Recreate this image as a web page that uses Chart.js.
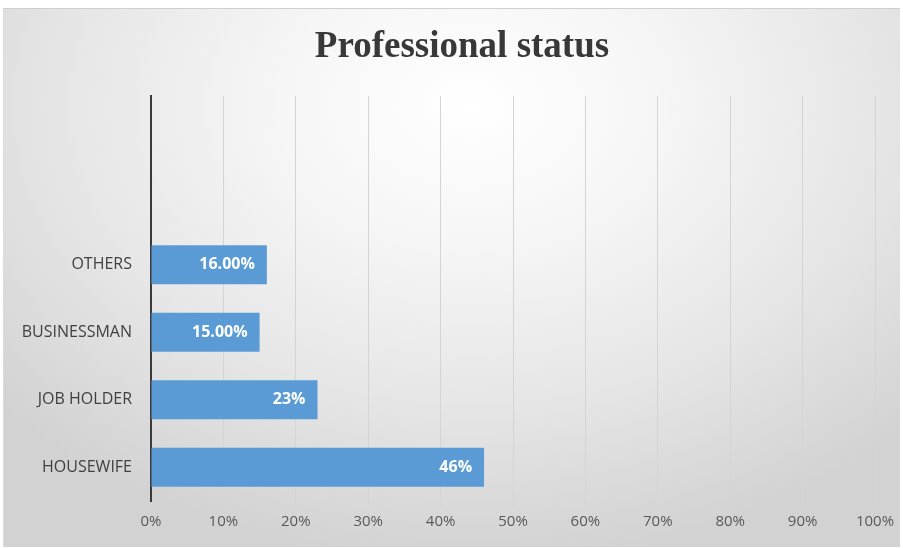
<!DOCTYPE html>
<html>
<head>
<meta charset="utf-8">
<script src="https://cdn.jsdelivr.net/npm/chart.js@4/dist/chart.umd.min.js"></script>
<style>
  html, body { margin: 0; padding: 0; background: #ffffff; }
  #wrap { position: relative; width: 903px; height: 548px; overflow: hidden; }
  #frame {
    position: absolute; left: 3px; top: 8px; width: 896px; height: 538px;
    border-top: 1px solid #cfcfcf; border-left: 1px solid #dadada;
    background: radial-gradient(ellipse 70% 85% at 52% 18%, #ffffff 0%, #f6f6f6 30%, #e6e6e6 65%, #d2d2d2 100%);
  }
  canvas { position: absolute; left: 0; top: 0; }
</style>
</head>
<body>
<div id="wrap">
  <div id="frame"></div>
  <canvas id="c" width="903" height="548"></canvas>
</div>
<script>
// Categories listed top to bottom; the two upper slots stay empty.
const categories = ['', '', 'OTHERS', 'BUSINESSMAN', 'JOB HOLDER', 'HOUSEWIFE'];
const shares = [null, null, 16, 15, 23, 46];
const shareLabels = ['', '', '16.00%', '15.00%', '23%', '46%'];
const xTicks = [0, 10, 20, 30, 40, 50, 60, 70, 80, 90, 100];

const labelFont = '"Liberation Sans Narrow", "Open Sans", sans-serif';

// Writes each bar's value label inside the bar's end.
const valueLabels = {
  id: 'valueLabels',
  afterDatasetsDraw(chart) {
    const ctx = chart.ctx;
    const meta = chart.getDatasetMeta(0);
    ctx.save();
    ctx.fillStyle = '#ffffff';
    ctx.font = 'bold 16px ' + labelFont;
    ctx.textAlign = 'right';
    ctx.textBaseline = 'middle';
    meta.data.forEach((bar, i) => {
      if (shares[i] == null) return;
      ctx.fillText(shareLabels[i], bar.x - 12, bar.y);
    });
    ctx.restore();
  }
};

// Chart heading.
const heading = {
  id: 'heading',
  afterDraw(chart) {
    const ctx = chart.ctx;
    ctx.save();
    ctx.fillStyle = '#383838';
    ctx.font = 'bold 37px "Liberation Serif", "DejaVu Serif", serif';
    ctx.textAlign = 'center';
    ctx.textBaseline = 'middle';
    ctx.fillText('Professional status', 462, 47);
    ctx.restore();
  }
};

new Chart(document.getElementById('c'), {
  type: 'bar',
  data: {
    labels: categories,
    datasets: [{
      data: shares,
      backgroundColor: '#5b9bd5',
      borderWidth: 0,
      categoryPercentage: 1,
      barPercentage: 0.58
    }]
  },
  options: {
    indexAxis: 'y',
    responsive: false,
    animation: false,
    layout: { padding: { left: 4, right: 28, top: 96, bottom: 17 } },
    plugins: { legend: { display: false }, title: { display: false }, tooltip: { enabled: false } },
    scales: {
      x: {
        min: 0, max: 100,
        afterBuildTicks(scale) { scale.ticks = xTicks.map(v => ({ value: v })); },
        afterFit(scale) { scale.height = 30; },
        border: { display: false },
        grid: { color: '#d4d4d4', lineWidth: 1, tickLength: 5, drawTicks: true },
        ticks: {
          color: '#595959',
          padding: 7,
          font: { family: labelFont, size: 15 },
          callback: v => v + '%'
        }
      },
      y: {
        afterFit(scale) { scale.width = 147; },
        border: { display: true, color: '#3a3a3a', width: 2 },
        grid: { display: false },
        ticks: {
          color: '#404040',
          padding: 11,
          font: { family: labelFont, size: 16 }
        }
      }
    }
  },
  plugins: [valueLabels, heading]
});
</script>
</body>
</html>
